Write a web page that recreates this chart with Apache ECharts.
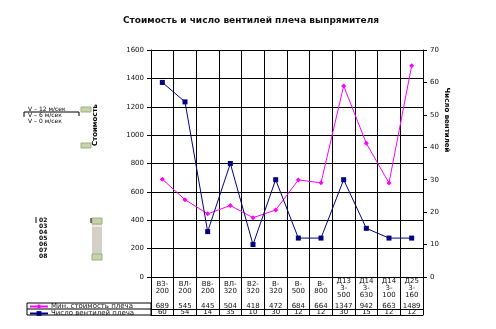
<!DOCTYPE html>
<html><head><meta charset="utf-8">
<script src="https://cdn.jsdelivr.net/npm/echarts@6/dist/echarts.min.js"></script>
<style>html,body{margin:0;padding:0;background:#fff}#c{width:496px;height:329px}</style>
</head><body><div id="c"></div>
<script>
const titleText = 'Стоимость и число вентилей плеча выпрямителя';
const categories = ['В3-\n200','ВЛ-\n200','В8-\n200','ВЛ-\n320','В2-\n320','В-\n320','В-\n500','В-\n800','Д13\n3-\n500','Д14\n3-\n630','Д14\n3-\n100','Д25\n3-\n160'];
const costName = 'Мин. стоимость плеча';
const countName = 'Число вентилей плеча';
const costValues = [689, 545, 445, 504, 418, 472, 684, 664, 1347, 942, 663, 1489];
const countValues = [60, 54, 14, 35, 10, 30, 12, 12, 30, 15, 12, 12];
const leftAxisName = 'Стоимость';
const rightAxisName = 'Число вентилей';
const speedLabels = ['V – 12 м/сек', 'V – 6 м/сек', 'V – 0 м/сек'];
const listItems = ['02','03','04','05','06','07','08'];

const FONT = 'DejaVu Sans';
const chart = echarts.init(document.getElementById('c'), null, {renderer: 'canvas'});
const lbl = {fontFamily: FONT, fontSize: 7, color: '#111'};

const graphics = [
  {type:'rect', shape:{x:27, y:303, width:124, height:12}, style:{fill:'none', stroke:'#000', lineWidth:1}},
  {type:'line', shape:{x1:27, y1:309, x2:151, y2:309}, style:{stroke:'#000', lineWidth:1}},
  {type:'text', x:95, y:125, rotation:Math.PI/2, style:{text:leftAxisName, font:'bold 7px ' + FONT, fill:'#000', textAlign:'center', textVerticalAlign:'middle'}},
  {type:'text', x:447, y:120, rotation:-Math.PI/2, style:{text:rightAxisName, font:'bold 7px ' + FONT, fill:'#000', textAlign:'center', textVerticalAlign:'middle'}},
  {type:'polyline', shape:{points:[[24,117],[24,112],[79,112],[79,116]]}, style:{stroke:'#000', lineWidth:1, fill:'none'}},
  {type:'rect', shape:{x:81, y:107, width:10, height:5}, style:{fill:'#c6d3b0', stroke:'#9fb07f'}},
  {type:'rect', shape:{x:81, y:143, width:10, height:5}, style:{fill:'#c6d3b0', stroke:'#9fb07f'}},
  {type:'rect', shape:{x:92, y:218, width:10, height:42}, style:{fill:'#d4d0c8'}},
  {type:'rect', shape:{x:92, y:218, width:10, height:6}, style:{fill:'#c6d3b0', stroke:'#9fb07f'}},
  {type:'rect', shape:{x:92, y:254, width:10, height:6}, style:{fill:'#c6d3b0', stroke:'#9fb07f'}},
  {type:'rect', shape:{x:92, y:225, width:10, height:2}, style:{fill:'#ece9e2'}},
  {type:'line', shape:{x1:91, y1:218, x2:91, y2:223}, style:{stroke:'#000', lineWidth:1}},
  {type:'line', shape:{x1:36, y1:217, x2:36, y2:223}, style:{stroke:'#000', lineWidth:1}}
];
speedLabels.forEach((t, i) => {
  graphics.push({type:'text', x:28, y:109 + i * 6, style:{text:t, font:'6px ' + FONT, fill:'#000', textVerticalAlign:'middle'}});
});
listItems.forEach((t, i) => {
  graphics.push({type:'text', x:39, y:220 + i * 6, style:{text:t, font:'bold 6px ' + FONT, fill:'#000', textVerticalAlign:'middle'}});
});

const tableAxis = (offset, values) => ({
  type:'category', data:categories, position:'bottom', offset:offset, gridIndex:0,
  axisLine:{show:true, lineStyle:{color:'#000', width:1}},
  axisTick:{show:false}, splitLine:{show:false},
  axisLabel: values ? {show:true, interval:0, margin:3, verticalAlign:'middle', ...lbl,
    formatter:(v, i) => String(values[i])} : {show:false}
});

chart.setOption({
  animation:false,
  title:{text:titleText, left:246, top:11, textAlign:'center',
    textStyle:{fontFamily:FONT, fontSize:9, fontWeight:'bold', color:'#111'}},
  legend:{orient:'vertical', left:29, top:303, padding:0, itemGap:0, itemWidth:18, itemHeight:6,
    textStyle:{fontFamily:FONT, fontSize:7, lineHeight:6, color:'#111', padding:[0,0,0,-2]},
    data:[costName, countName]},
  grid:{left:151, right:73, top:50, bottom:52},
  xAxis:[
    {type:'category', data:categories, position:'bottom', boundaryGap:true,
      axisLine:{show:true, lineStyle:{color:'#000', width:1}},
      axisTick:{show:true, interval:0, length:38, lineStyle:{color:'#000', width:1}},
      splitLine:{show:true, interval:0, lineStyle:{color:'#000', width:1}},
      axisLabel:{show:true, interval:0, margin:11, verticalAlign:'middle', lineHeight:7, ...lbl}},
    tableAxis(26, costValues),
    tableAxis(32, countValues),
    tableAxis(38, null)
  ],
  yAxis:[
    {type:'value', min:0, max:1600, interval:200, position:'left',
      axisLine:{show:true, lineStyle:{color:'#000', width:1}},
      axisTick:{show:true, length:4, lineStyle:{color:'#000'}},
      splitLine:{show:true, lineStyle:{color:'#000', width:1}},
      axisLabel:{margin:7, ...lbl, formatter:(v) => String(v)}},
    {type:'value', min:0, max:70, interval:10, position:'right',
      axisLine:{show:true, lineStyle:{color:'#000', width:1}},
      axisTick:{show:true, length:4, lineStyle:{color:'#000'}},
      splitLine:{show:false},
      axisLabel:{margin:7, ...lbl, formatter:(v) => String(v)}}
  ],
  series:[
    {name:costName, type:'line', data:costValues, xAxisIndex:0, yAxisIndex:0,
      symbol:'diamond', symbolSize:5, color:'#ff00ff',
      lineStyle:{color:'#ff00ff', width:1}, itemStyle:{color:'#ff00ff'}},
    {name:countName, type:'line', data:countValues, xAxisIndex:0, yAxisIndex:1,
      symbol:'rect', symbolSize:5, color:'#000080',
      lineStyle:{color:'#000080', width:1}, itemStyle:{color:'#000080'}}
  ],
  graphic: graphics
});
</script></body></html>
